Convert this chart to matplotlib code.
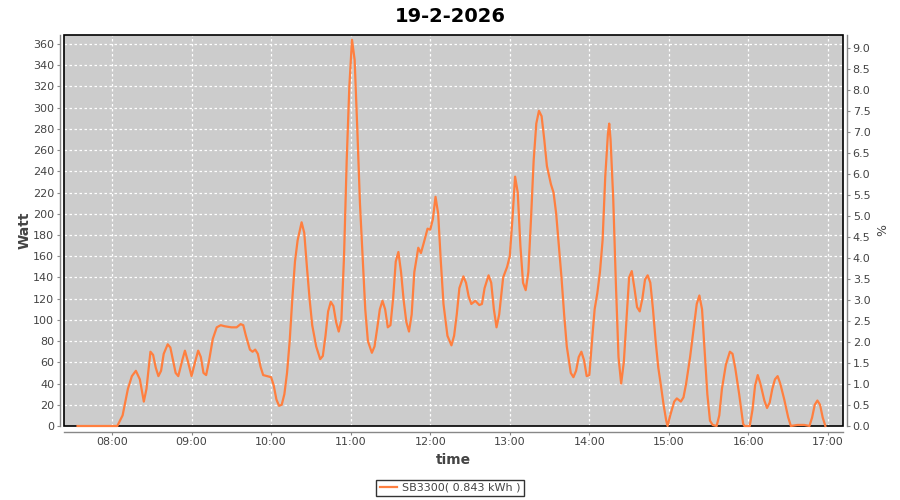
import matplotlib
matplotlib.use('Agg')
import matplotlib.pyplot as plt
from matplotlib.patches import Rectangle
from matplotlib.ticker import FuncFormatter, MultipleLocator

# power readings (time of day, Watt)
times = ['07:34', '08:04', '08:08', '08:12', '08:15', '08:18', '08:21', '08:24', '08:26', '08:29',
         '08:31', '08:33', '08:35', '08:37', '08:39', '08:42', '08:44', '08:46', '08:48', '08:50',
         '08:53', '08:55', '08:57', '09:00', '09:03', '09:05', '09:07', '09:09', '09:11', '09:13',
         '09:16', '09:19', '09:22', '09:25', '09:30', '09:34', '09:37', '09:39', '09:41', '09:44',
         '09:46', '09:48', '09:50', '09:52', '09:54', '09:57', '10:00', '10:02', '10:04', '10:06',
         '10:08', '10:10', '10:12', '10:14', '10:16', '10:18', '10:20', '10:23', '10:25', '10:27',
         '10:29', '10:31', '10:34', '10:37', '10:39', '10:41', '10:43', '10:45', '10:47', '10:49',
         '10:51', '10:53', '10:55', '10:57', '10:59', '11:01', '11:03', '11:05', '11:07', '11:09',
         '11:11', '11:13', '11:16', '11:18', '11:20', '11:22', '11:24', '11:26', '11:28', '11:30',
         '11:32', '11:34', '11:36', '11:38', '11:40', '11:42', '11:44', '11:46', '11:48', '11:51',
         '11:53', '11:55', '11:58', '12:00', '12:02', '12:04', '12:06', '12:08', '12:10', '12:13',
         '12:16', '12:18', '12:20', '12:22', '12:25', '12:27', '12:29', '12:31', '12:34', '12:37',
         '12:39', '12:41', '12:44', '12:46', '12:48', '12:50', '12:52', '12:55', '12:58', '13:00',
         '13:02', '13:04', '13:06', '13:08', '13:10', '13:12', '13:14', '13:16', '13:18', '13:20',
         '13:22', '13:24', '13:26', '13:28', '13:31', '13:33', '13:35', '13:37', '13:39', '13:41',
         '13:43', '13:46', '13:48', '13:50', '13:52', '13:54', '13:56', '13:58', '14:00', '14:02',
         '14:04', '14:06', '14:08', '14:10', '14:12', '14:14', '14:15', '14:16', '14:18', '14:20',
         '14:22', '14:24', '14:26', '14:28', '14:30', '14:32', '14:34', '14:36', '14:38', '14:40',
         '14:42', '14:44', '14:46', '14:48', '14:50', '14:52', '14:54', '14:56', '14:58', '14:59',
         '15:01', '15:04', '15:06', '15:09', '15:11', '15:13', '15:16', '15:19', '15:21', '15:23',
         '15:25', '15:27', '15:29', '15:31', '15:33', '15:36', '15:38', '15:40', '15:43', '15:46',
         '15:48', '15:50', '15:53', '15:56', '15:57', '16:01', '16:03', '16:05', '16:07', '16:09',
         '16:12', '16:14', '16:16', '16:18', '16:20', '16:22', '16:24', '16:27', '16:30', '16:32',
         '16:37', '16:42', '16:46', '16:48', '16:50', '16:52', '16:54', '16:56', '16:58']
watt = [0, 0, 10, 35, 47, 52, 44, 23, 35, 70,
        67, 55, 47, 52, 68, 77, 74, 62, 50, 47,
        62, 71, 62, 47, 62, 71, 65, 50, 48, 60,
        82, 93, 95, 94, 93, 93, 96, 95, 85, 72,
        70, 72, 68, 56, 48, 47, 46, 38, 25, 19,
        20, 30, 50, 80, 120, 155, 175, 192, 182, 150,
        120, 95, 75, 63, 66, 85, 108, 117, 113, 98,
        89, 100, 160, 250, 320, 364, 345, 280, 210, 160,
        110, 80, 69, 75, 92, 110, 118, 110, 93, 95,
        120, 155, 164, 145, 118, 98, 89, 105, 145, 168,
        163, 172, 186, 185, 195, 216, 200, 155, 115, 85,
        76, 85, 105, 130, 141, 135, 122, 115, 118, 114,
        115, 130, 142, 135, 110, 93, 105, 140, 150, 160,
        195, 235, 220, 170, 135, 128, 145, 195, 250, 285,
        297, 292, 270, 245, 228, 220, 200, 170, 140, 105,
        75, 50, 46, 52, 65, 70, 62, 47, 48, 80,
        110, 125, 145, 175, 235, 275, 285, 270, 215, 135,
        65, 40, 60, 100, 140, 146, 130, 112, 108, 120,
        138, 142, 135, 110, 80, 55, 38, 20, 5, 0,
        10, 23, 26, 23, 27, 40, 65, 95, 115, 123,
        110, 70, 30, 5, 1, 0, 10, 35, 58, 70,
        68, 55, 30, 2, 0, 0, 15, 38, 48, 40,
        24, 17, 22, 35, 44, 47, 40, 25, 8, 0,
        1, 1, 0, 8, 20, 24, 20, 8, 0]

title = '19-2-2026'
series_label = 'SB3300( 0.843 kWh )'
line_color = '#ff7f3f'

hours = [int(t[:2]) + int(t[3:]) / 60 for t in times]

fig = plt.figure(figsize=(9, 5), dpi=100)
ax = fig.add_axes([64 / 900, 74 / 500, 779 / 900, 391 / 500])
ax.set_facecolor('#cccccc')

ax.plot(hours, watt, color=line_color, lw=1.6, label=series_label, zorder=6, clip_on=False)

ax.set_xlim(7.3967, 17.1885)
ax.set_ylim(0, 368.5)
ax.xaxis.set_major_locator(MultipleLocator(1))
ax.xaxis.set_major_formatter(FuncFormatter(lambda v, p: '%02d:00' % round(v)))
ax.yaxis.set_major_locator(MultipleLocator(20))
ax.grid(color='white', linestyle=(0, (2, 2)), linewidth=0.9)

ax2 = ax.twinx()
ax2.set_ylim(0, 9.31)
ax2.yaxis.set_major_locator(MultipleLocator(0.5))
ax2.yaxis.set_major_formatter(FuncFormatter(lambda v, p: '%.1f' % v))

for a in (ax, ax2):
    for s in a.spines.values():
        s.set_color('#888888')
        s.set_linewidth(1)
    a.spines['top'].set_visible(False)
    a.tick_params(length=2, width=0.8, color='#888888', labelsize=8, labelcolor='#444444', pad=2)
ax.spines['right'].set_visible(False)
ax2.spines['left'].set_visible(False)
ax2.spines['bottom'].set_visible(False)
ax.spines['left'].set_position(('outward', 3))
ax.spines['bottom'].set_position(('outward', 4))
ax2.spines['right'].set_position(('outward', 3))

# plot border
ax.add_patch(Rectangle((0, 0), 1, 1, transform=ax.transAxes, fill=False,
                       edgecolor='black', lw=1.2, clip_on=False, zorder=5))

ax.set_xlabel('time', fontsize=10, fontweight='bold', color='#444444', labelpad=4)
ax.set_ylabel('Watt', fontsize=10, fontweight='bold', color='#444444', labelpad=1)
ax2.set_ylabel('%', fontsize=9, color='#444444', labelpad=4)
fig.suptitle(title, x=0.5, y=0.985, fontsize=14, fontweight='bold')

leg = fig.legend(loc='center', bbox_to_anchor=(0.5, 0.024), fontsize=8, frameon=True,
                 fancybox=False, handlelength=1.6, handletextpad=0.4, borderpad=0.3)
leg.get_frame().set_edgecolor('black')
leg.get_frame().set_linewidth(1)
for t in leg.get_texts():
    t.set_color('#444444')

fig.savefig('out.png', dpi=100)
